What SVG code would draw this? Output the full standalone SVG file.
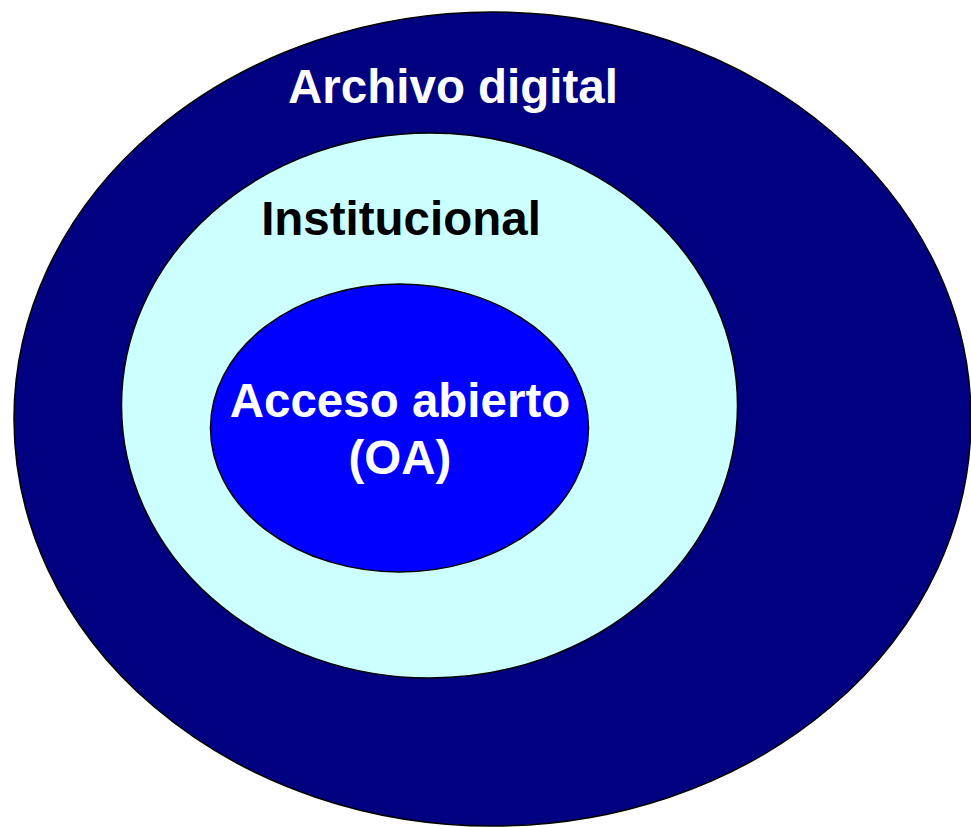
<svg xmlns="http://www.w3.org/2000/svg" width="971" height="827" viewBox="0 0 971 827">
<style>
.ring{stroke:#000;stroke-width:1.5}
.lbl{font-family:"Liberation Sans",Arial,sans-serif;font-weight:bold;font-size:47.5px;text-anchor:middle}
</style>
<rect width="971" height="827" fill="#fff"/>
<g id="archivo-digital">
<ellipse class="ring" cx="492.5" cy="419" rx="478.5" ry="407" fill="#000080"/>
<text class="lbl" x="453" y="103" fill="#fff">Archivo digital</text>
</g>
<g id="institucional">
<ellipse class="ring" cx="429.5" cy="405.5" rx="308" ry="272.5" fill="#CCFFFF"/>
<text class="lbl" x="401" y="235" fill="#000">Institucional</text>
</g>
<g id="acceso-abierto">
<ellipse class="ring" cx="399.5" cy="428" rx="189" ry="144" fill="#0000FF"/>
<text class="lbl" x="400" y="417" fill="#fff">Acceso abierto</text>
<text class="lbl" x="400" y="474" fill="#fff">(OA)</text>
</g>
<g id="connectors"/>
</svg>
